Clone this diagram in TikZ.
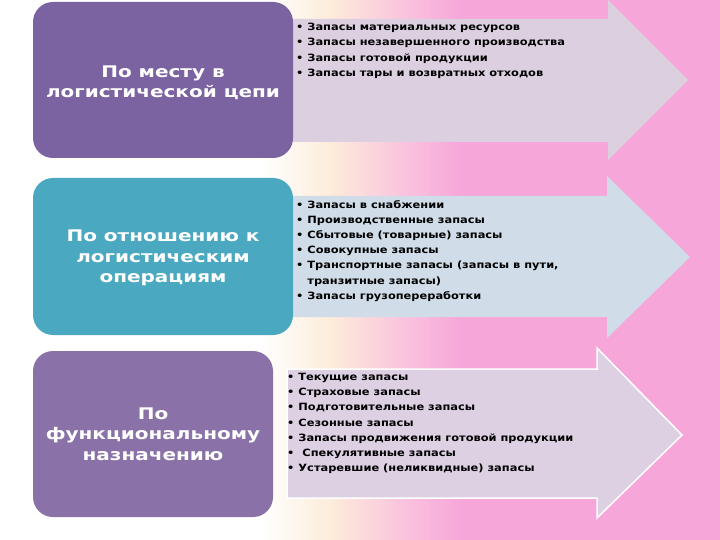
\documentclass[tikz,border=0pt]{standalone}
\usepackage{fontspec}
\setmainfont{DejaVu Sans}
\newfontfamily\boxfont{DejaVu Sans}[FakeStretch=1.25]
\newfontfamily\listfont{DejaVu Sans}[FakeStretch=1.14]
\begin{document}
\begin{tikzpicture}[x=1pt,y=-1pt,
  catbox/.style={rounded corners=20pt, inner sep=0pt, text=white, font=\boxfont\bfseries\fontsize{16}{20.5}\selectfont, align=center},
  listtext/.style={anchor=north west, inner sep=0pt, align=left, font=\listfont\bfseries\fontsize{10}{15.2}\selectfont},
  arrowC/.style={fill=arrC, draw=white, line width=1.5pt}]
\definecolor{bgpink}{RGB}{247,166,218}
\definecolor{bgcream}{RGB}{253,236,218}
\definecolor{bglpink}{RGB}{250,200,222}
\definecolor{boxA}{RGB}{123,98,160}
\definecolor{boxB}{RGB}{74,168,192}
\definecolor{boxC}{RGB}{138,114,168}
\definecolor{arrA}{RGB}{220,208,224}
\definecolor{arrB}{RGB}{208,220,232}
\definecolor{arrC}{RGB}{220,208,226}
\useasboundingbox (0,0) rectangle (720,540);
% background
\fill[white] (0,0) rectangle (262,540);
\shade[left color=white, right color=bgcream] (261,0) rectangle (331,540);
\shade[left color=bgcream, right color=bglpink] (330,0) rectangle (396,540);
\shade[left color=bglpink, right color=bgpink] (395,0) rectangle (461,540);
\fill[bgpink] (460,0) rectangle (720,540);
% arrows
\fill[fill=arrA] (292,19) -- (608,19) -- (608,0) -- (688,80) -- (608,160) -- (608,142) -- (292,142) -- cycle;
\fill[fill=arrB] (292,196) -- (607,196) -- (607,176) -- (690,257) -- (607,338) -- (607,317) -- (292,317) -- cycle;
\filldraw[arrowC] (287,369) -- (597,369) -- (597,348) -- (682,435) -- (597,518) -- (597,498) -- (287,498) -- cycle;
% boxes
\node[catbox, fill=boxA, minimum width=260pt, minimum height=156pt] (c1) at (163,80) {};
\node[catbox] (t1) at (163,83) {По месту в\\логистической цепи};
\node[catbox, fill=boxB, minimum width=260pt, minimum height=157pt] (c2) at (163,256.5) {};
\node[catbox] (t2) at (163,258) {По отношению к\\логистическим\\операциям};
\node[catbox, fill=boxC, minimum width=240pt, minimum height=166pt] (c3) at (153,434) {По\\функциональному\\назначению};
% lists
\node[listtext] (l1) at (296,23) {• Запасы материальных ресурсов\\• Запасы незавершенного производства\\• Запасы готовой продукции\\• Запасы тары и возвратных отходов};
\node[listtext] (l2) at (296,200) {• Запасы в снабжении\\• Производственные запасы\\• Сбытовые (товарные) запасы\\• Совокупные запасы\\• Транспортные запасы (запасы в пути,\\\phantom{•} транзитные запасы)\\• Запасы грузопереработки};
\node[listtext] (l3) at (287,373) {• Текущие запасы\\• Страховые запасы\\• Подготовительные запасы\\• Сезонные запасы\\• Запасы продвижения готовой продукции\\•\ \ Спекулятивные запасы\\• Устаревшие (неликвидные) запасы};
\end{tikzpicture}
\end{document}
